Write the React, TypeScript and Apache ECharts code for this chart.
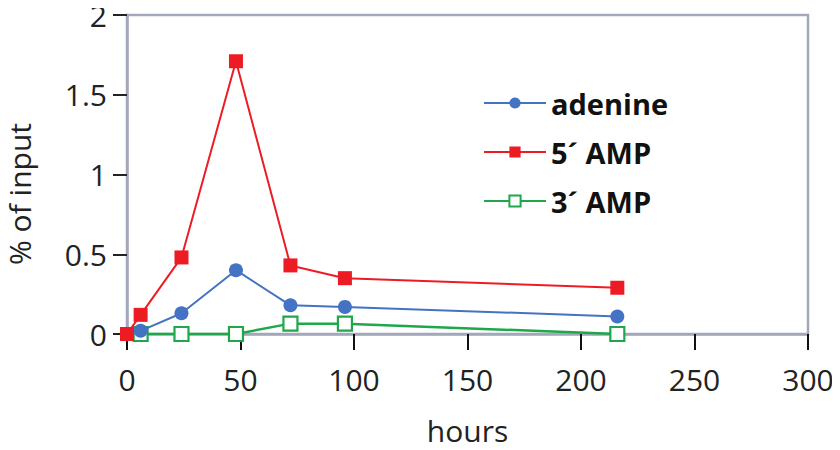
import React, { useEffect, useRef } from "react";
import * as echarts from "echarts";

const amp5Hours = [0, 6, 24, 48, 72, 96, 216];
const amp5Values = [0, 0.12, 0.48, 1.71, 0.43, 0.35, 0.29];
const adenineHours = [6, 24, 48, 72, 96, 216];
const adenineValues = [0.02, 0.13, 0.4, 0.18, 0.17, 0.11];
const amp3Hours = [6, 24, 48, 72, 96, 216];
const amp3Values = [0, 0, 0, 0.065, 0.065, 0];

const seriesNames = ["adenine", "5\u00B4 AMP", "3\u00B4 AMP"];
const xTitle = "hours";
const yTitle = "% of input";

const FONT = "'Open Sans', sans-serif";
const AXIS_COLOR = "#A3A7BA";

const pairs = (xs: number[], ys: number[]) => xs.map((x, i) => [x, ys[i]]);

export default function App() {
  const ref = useRef<HTMLDivElement>(null);
  useEffect(() => {
    if (!ref.current) return;
    const chart = echarts.init(ref.current, undefined, { renderer: "svg" });
    chart.setOption({
      animation: false,
      backgroundColor: "#fff",
      textStyle: { fontFamily: FONT },
      grid: {
        left: 127,
        right: 32,
        top: 15,
        bottom: 109,
        show: true,
        borderColor: AXIS_COLOR,
        borderWidth: 2.5,
        backgroundColor: "transparent",
      },
      legend: {
        orient: "vertical",
        left: 478,
        top: 83,
        itemWidth: 62,
        itemHeight: 14,
        itemGap: 19,
        data: seriesNames,
        textStyle: {
          fontFamily: FONT,
          fontSize: 29,
          fontWeight: "bold",
          color: "#111",
          lineHeight: 30,
        },
      },
      graphic: [
        {
          type: "text",
          x: 19,
          y: 194,
          rotation: Math.PI / 2,
          style: {
            text: yTitle,
            fontFamily: FONT,
            fontSize: 30,
            fill: "#222",
            textAlign: "center",
            textVerticalAlign: "middle",
          },
        },
      ],
      xAxis: {
        type: "value",
        min: 0,
        max: 300,
        interval: 50,
        name: xTitle,
        nameLocation: "middle",
        nameGap: 81,
        nameTextStyle: { fontFamily: FONT, fontSize: 30, color: "#222" },
        axisLine: { show: true, lineStyle: { color: AXIS_COLOR, width: 2.5 } },
        axisTick: { show: true, length: 16, lineStyle: { color: "#111", width: 2 } },
        axisLabel: { fontFamily: FONT, fontSize: 30, color: "#222", margin: 30 },
        splitLine: { show: false },
      },
      yAxis: {
        type: "value",
        min: 0,
        max: 2,
        interval: 0.5,
        axisLine: { show: true, lineStyle: { color: AXIS_COLOR, width: 2.5 } },
        axisTick: { show: true, length: 14, lineStyle: { color: "#222", width: 2 } },
        axisLabel: {
          fontFamily: FONT,
          fontSize: 30,
          color: "#222",
          margin: 20,
          lineHeight: 22,
        },
        splitLine: { show: false },
      },
      series: [
        {
          name: seriesNames[0],
          type: "line",
          data: pairs(adenineHours, adenineValues),
          symbol: "circle",
          symbolSize: 14,
          lineStyle: { color: "#4472C4", width: 2 },
          itemStyle: { color: "#4472C4" },
          z: 3,
        },
        {
          name: seriesNames[1],
          type: "line",
          data: pairs(amp5Hours, amp5Values),
          symbol: "rect",
          symbolSize: 14,
          lineStyle: { color: "#ED1C24", width: 2 },
          itemStyle: { color: "#ED1C24" },
          z: 4,
        },
        {
          name: seriesNames[2],
          type: "line",
          data: pairs(amp3Hours, amp3Values),
          symbol: "rect",
          symbolSize: 14,
          lineStyle: { color: "#1FA84B", width: 2.5 },
          itemStyle: { color: "#ffffff", borderColor: "#1FA84B", borderWidth: 2.2 },
          z: 2,
        },
      ],
    });
    return () => chart.dispose();
  }, []);
  return <div ref={ref} style={{ width: 840, height: 450, margin: -8 }} />;
}
